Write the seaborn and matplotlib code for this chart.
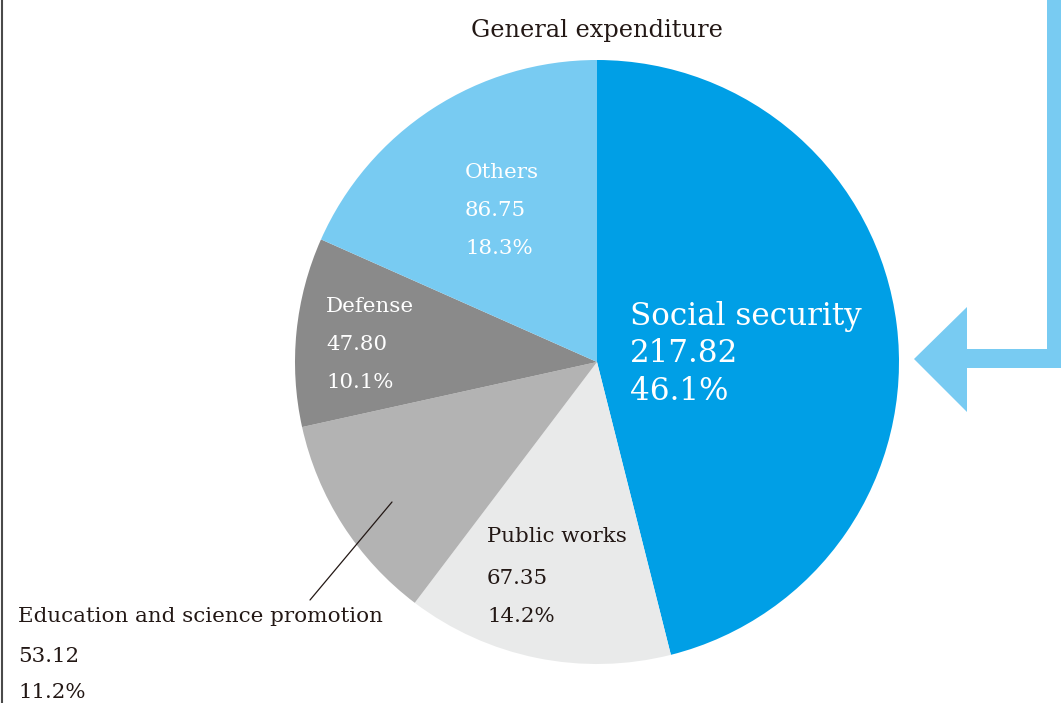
import matplotlib
matplotlib.use("Agg")
import matplotlib.pyplot as plt
import seaborn as sns
from matplotlib.patches import Polygon

categories = ["Social security", "Public works", "Education and science promotion", "Defense", "Others"]
values = [217.82, 67.35, 53.12, 47.80, 86.75]
colors = ["#009FE6", "#E9EAEA", "#B3B3B3", "#8A8A8A", "#78CBF2"]
title = "General expenditure"

sns.set_theme(style="white")
plt.rcParams["font.family"] = ["DejaVu Serif"]

W, H = 1061, 703
fig = plt.figure(figsize=(W / 100, H / 100), dpi=100)
ax = fig.add_axes([0, 0, 1, 1])


def Y(y):
    return H - y


cx, cy, r = 597, 362, 302
ax.pie(values, colors=colors, startangle=90, counterclock=False,
       center=(cx, Y(cy)), radius=r, wedgeprops=dict(linewidth=0))
ax.set_xlim(0, W)
ax.set_ylim(0, H)
ax.set_aspect("equal")
ax.axis("off")

total = sum(values)
dark = "#231815"

ax.text(cx, Y(30), title, ha="center", va="center", fontsize=17.4, color=dark)

small = 15.4
specs = {
    "Social security": (630, [316, 354, 392], "white", 22.3),
    "Public works": (487, [537, 578, 616], dark, small),
    "Education and science promotion": (18, [617, 656, 692], dark, small),
    "Defense": (326, [307, 345, 383], "white", small),
    "Others": (465, [173, 211, 248], "white", small),
}
for cat, v in zip(categories, values):
    x, ys, col, fs = specs[cat]
    lines = [cat, f"{v:.2f}", f"{v / total * 100:.1f}%"]
    for t, y in zip(lines, ys):
        ax.text(x, Y(y), t, ha="left", va="center", fontsize=fs, color=col)

ax.plot([310, 392], [Y(600), Y(502)], color=dark, lw=0.9)

# left border line
ax.plot([1.5, 1.5], [0, H], color="#4a4a4a", lw=1.5)

# arrow
arrow_col = "#78CBF2"
pts = [(1047, 0), (1061, 0), (1061, 368), (967, 368), (967, 412),
       (914, 359), (967, 307), (967, 349), (1047, 349)]
ax.add_patch(Polygon([(x, Y(y)) for x, y in pts],
                     closed=True, facecolor=arrow_col, edgecolor="none"))

fig.savefig("out.png", dpi=100)
